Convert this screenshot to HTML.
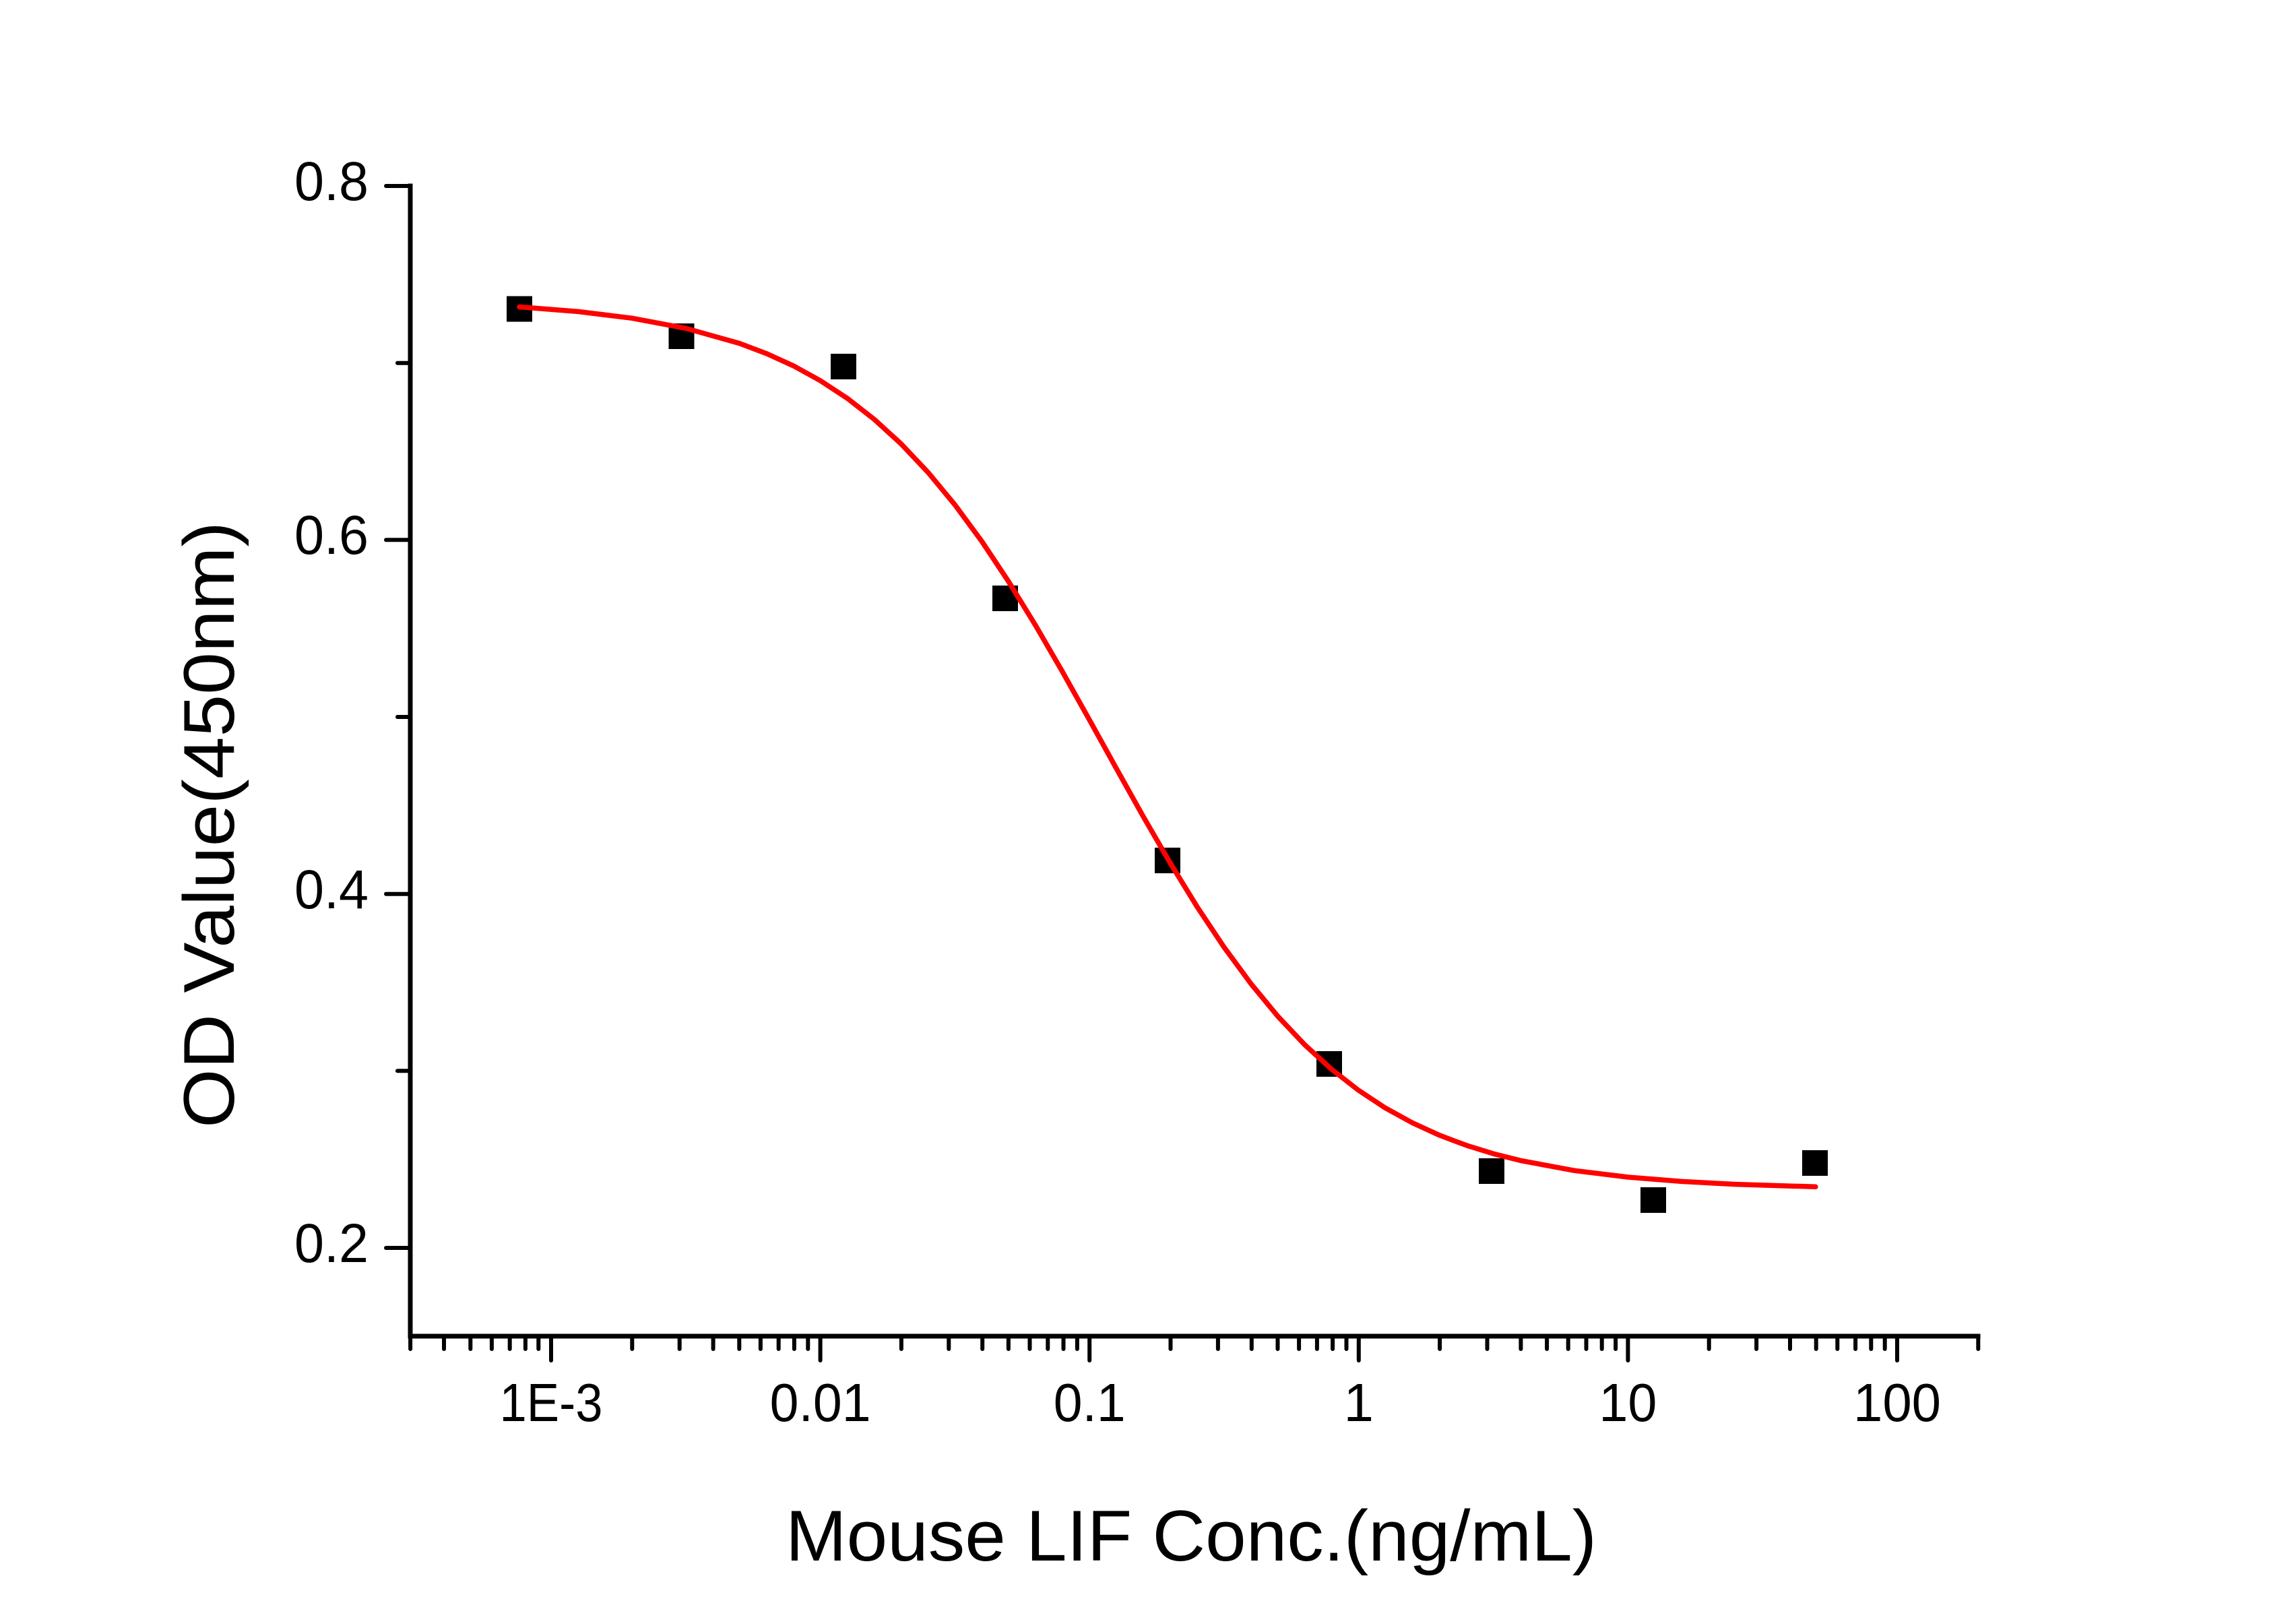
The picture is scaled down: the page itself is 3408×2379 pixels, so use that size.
<!DOCTYPE html>
<html>
<head>
<meta charset="utf-8">
<style>
html,body{margin:0;padding:0;background:#fff;}
svg{display:block;}
text{font-family:"Liberation Sans",Arial,sans-serif;fill:#000;}
</style>
</head>
<body>
<svg width="3408" height="2379" viewBox="0 0 3408 2379" xmlns="http://www.w3.org/2000/svg">
<rect x="0" y="0" width="3408" height="2379" fill="#fff"/>

<!-- axes -->
<g stroke="#000" stroke-width="7" fill="none" stroke-linecap="square">
  <line x1="609" y1="276" x2="609" y2="1983"/>
  <line x1="609" y1="1983" x2="2936" y2="1983"/>
</g>

<!-- y ticks -->
<g stroke="#000" stroke-width="6" stroke-linecap="round">
  <line x1="573" y1="276" x2="609" y2="276"/>
  <line x1="573" y1="801.3" x2="609" y2="801.3"/>
  <line x1="573" y1="1326.7" x2="609" y2="1326.7"/>
  <line x1="573" y1="1852" x2="609" y2="1852"/>
  <line x1="590" y1="538.7" x2="609" y2="538.7"/>
  <line x1="590" y1="1064" x2="609" y2="1064"/>
  <line x1="590" y1="1589.3" x2="609" y2="1589.3"/>
</g>

<!-- x major ticks -->
<g stroke="#000" stroke-width="6" stroke-linecap="round">
  <line x1="818" y1="1983" x2="818" y2="2019"/>
  <line x1="1217.6" y1="1983" x2="1217.6" y2="2019"/>
  <line x1="1617.2" y1="1983" x2="1617.2" y2="2019"/>
  <line x1="2016.8" y1="1983" x2="2016.8" y2="2019"/>
  <line x1="2416.4" y1="1983" x2="2416.4" y2="2019"/>
  <line x1="2816" y1="1983" x2="2816" y2="2019"/>
</g>

<!-- x minor ticks -->
<g stroke="#000" stroke-width="6" stroke-linecap="round">
  <!-- below 1E-3 -->
  <line x1="609.1" y1="1983" x2="609.1" y2="2002"/>
  <line x1="659.0" y1="1983" x2="659.0" y2="2002"/>
  <line x1="698.3" y1="1983" x2="698.3" y2="2002"/>
  <line x1="729.9" y1="1983" x2="729.9" y2="2002"/>
  <line x1="756.7" y1="1983" x2="756.7" y2="2002"/>
  <line x1="779.9" y1="1983" x2="779.9" y2="2002"/>
  <line x1="799.3" y1="1983" x2="799.3" y2="2002"/>
  <!-- 1E-3 decade -->
  <line x1="938.3" y1="1983" x2="938.3" y2="2002"/>
  <line x1="1008.7" y1="1983" x2="1008.7" y2="2002"/>
  <line x1="1058.6" y1="1983" x2="1058.6" y2="2002"/>
  <line x1="1097.3" y1="1983" x2="1097.3" y2="2002"/>
  <line x1="1128.9" y1="1983" x2="1128.9" y2="2002"/>
  <line x1="1155.7" y1="1983" x2="1155.7" y2="2002"/>
  <line x1="1178.9" y1="1983" x2="1178.9" y2="2002"/>
  <line x1="1199.3" y1="1983" x2="1199.3" y2="2002"/>
  <!-- 0.01 decade -->
  <line x1="1337.9" y1="1983" x2="1337.9" y2="2002"/>
  <line x1="1408.3" y1="1983" x2="1408.3" y2="2002"/>
  <line x1="1458.2" y1="1983" x2="1458.2" y2="2002"/>
  <line x1="1496.9" y1="1983" x2="1496.9" y2="2002"/>
  <line x1="1528.5" y1="1983" x2="1528.5" y2="2002"/>
  <line x1="1555.3" y1="1983" x2="1555.3" y2="2002"/>
  <line x1="1578.5" y1="1983" x2="1578.5" y2="2002"/>
  <line x1="1598.9" y1="1983" x2="1598.9" y2="2002"/>
  <!-- 0.1 decade -->
  <line x1="1737.5" y1="1983" x2="1737.5" y2="2002"/>
  <line x1="1807.9" y1="1983" x2="1807.9" y2="2002"/>
  <line x1="1857.8" y1="1983" x2="1857.8" y2="2002"/>
  <line x1="1896.5" y1="1983" x2="1896.5" y2="2002"/>
  <line x1="1928.1" y1="1983" x2="1928.1" y2="2002"/>
  <line x1="1954.9" y1="1983" x2="1954.9" y2="2002"/>
  <line x1="1978.1" y1="1983" x2="1978.1" y2="2002"/>
  <line x1="1998.5" y1="1983" x2="1998.5" y2="2002"/>
  <!-- 1 decade -->
  <line x1="2137.1" y1="1983" x2="2137.1" y2="2002"/>
  <line x1="2207.5" y1="1983" x2="2207.5" y2="2002"/>
  <line x1="2257.4" y1="1983" x2="2257.4" y2="2002"/>
  <line x1="2296.1" y1="1983" x2="2296.1" y2="2002"/>
  <line x1="2327.7" y1="1983" x2="2327.7" y2="2002"/>
  <line x1="2354.5" y1="1983" x2="2354.5" y2="2002"/>
  <line x1="2377.7" y1="1983" x2="2377.7" y2="2002"/>
  <line x1="2398.1" y1="1983" x2="2398.1" y2="2002"/>
  <!-- 10 decade -->
  <line x1="2536.7" y1="1983" x2="2536.7" y2="2002"/>
  <line x1="2607.1" y1="1983" x2="2607.1" y2="2002"/>
  <line x1="2657.0" y1="1983" x2="2657.0" y2="2002"/>
  <line x1="2695.7" y1="1983" x2="2695.7" y2="2002"/>
  <line x1="2727.3" y1="1983" x2="2727.3" y2="2002"/>
  <line x1="2754.1" y1="1983" x2="2754.1" y2="2002"/>
  <line x1="2777.3" y1="1983" x2="2777.3" y2="2002"/>
  <line x1="2797.7" y1="1983" x2="2797.7" y2="2002"/>
  <!-- 200 -->
  <line x1="2936.3" y1="1983" x2="2936.3" y2="2002"/>
</g>

<!-- y tick labels -->
<g font-size="82" text-anchor="end">
  <text x="547" y="297" textLength="110" lengthAdjust="spacingAndGlyphs">0.8</text>
  <text x="547" y="822" textLength="110" lengthAdjust="spacingAndGlyphs">0.6</text>
  <text x="547" y="1348" textLength="110" lengthAdjust="spacingAndGlyphs">0.4</text>
  <text x="547" y="1873" textLength="110" lengthAdjust="spacingAndGlyphs">0.2</text>
</g>

<!-- x tick labels -->
<g font-size="80" text-anchor="middle">
  <text x="818" y="2109" textLength="153" lengthAdjust="spacingAndGlyphs">1E-3</text>
  <text x="1217.6" y="2109" textLength="150" lengthAdjust="spacingAndGlyphs">0.01</text>
  <text x="1617.2" y="2109" textLength="107" lengthAdjust="spacingAndGlyphs">0.1</text>
  <text x="2016.8" y="2109">1</text>
  <text x="2416.4" y="2109" textLength="86" lengthAdjust="spacingAndGlyphs">10</text>
  <text x="2816" y="2109" textLength="130" lengthAdjust="spacingAndGlyphs">100</text>
</g>

<!-- axis titles -->
<text x="1166" y="2316" font-size="107" textLength="1204" lengthAdjust="spacingAndGlyphs">Mouse LIF Conc.(ng/mL)</text>
<text transform="translate(347,1224) rotate(-90)" x="0" y="0" font-size="107" text-anchor="middle" textLength="900" lengthAdjust="spacingAndGlyphs">OD Value(450nm)</text>

<!-- data points -->
<g fill="#000">
  <rect x="752" y="439.5" width="38" height="38"/>
  <rect x="992.5" y="480" width="38" height="38"/>
  <rect x="1233" y="525" width="38" height="38"/>
  <rect x="1473" y="869" width="38" height="38"/>
  <rect x="1714" y="1258" width="38" height="38"/>
  <rect x="1954" y="1560" width="38" height="38"/>
  <rect x="2195" y="1719" width="38" height="38"/>
  <rect x="2435" y="1762" width="38" height="38"/>
  <rect x="2675" y="1707" width="38" height="38"/>
</g>

<!-- fitted curve -->
<polyline fill="none" stroke="#ff0000" stroke-width="7.5" stroke-linejoin="round" stroke-linecap="round"
points="771.0,455.5 858.0,462.4 937.9,472.2 1017.8,487.2 1097.7,509.6 1137.7,524.7 1177.7,542.9 1217.6,564.9 1257.6,591.1 1297.5,622.2 1337.5,658.7 1377.4,700.9 1417.4,749.2 1457.4,803.5 1497.3,863.5 1537.3,928.5 1577.2,997.3 1617.2,1068.6 1657.2,1140.8 1697.1,1212.1 1737.1,1281.0 1777.0,1345.9 1817.0,1405.9 1857.0,1460.2 1896.9,1508.5 1936.9,1550.8 1976.8,1587.2 2016.8,1618.3 2056.7,1644.6 2096.7,1666.5 2136.6,1684.8 2176.6,1699.8 2216.6,1712.2 2256.6,1722.3 2336.5,1737.2 2416.4,1747.0 2496.3,1753.4 2576.2,1757.6 2694.9,1761.3"/>
</svg>
</body>
</html>
